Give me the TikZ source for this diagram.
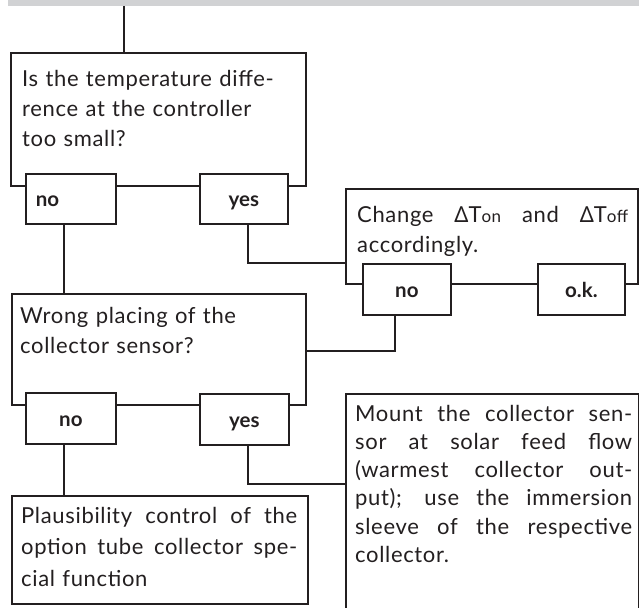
\documentclass[tikz,border=0pt]{standalone}
\usepackage{fontspec}
\setmainfont{Lato}
\newfontfamily\bodyfont{Lato}[LetterSpace=3]
\newfontfamily\gkfont{Noto Sans}
\definecolor{ink}{HTML}{231F20}
\definecolor{bargrey}{HTML}{D1D2D4}
\newcommand{\justline}[2]{{\spaceskip=0.28em plus 1fil\xspaceskip=0.3em plus 1fil\makebox[#1][s]{#2}}}
\newcommand{\mydelta}{{\gkfont Δ}}
\newcommand{\mysub}[1]{{\fontsize{17}{17}\selectfont #1}}
\newcommand{\labelfont}{\bfseries\fontsize{20.5}{20.5}\selectfont}
\begin{document}
\begin{tikzpicture}[x=1pt,y=-1pt,
  box/.style={draw=ink, fill=white, line width=1.8pt, rectangle, inner sep=0pt, anchor=north west},
  lbl/.style={box, text=ink, font=\labelfont, text height=16pt, text depth=0pt, align=center},
  txt/.style={anchor=base west, inner sep=0pt, text=ink, align=left},
  conn/.style={draw=ink, line width=1.8pt}]
\useasboundingbox (0,0) rectangle (639,607);
\clip (0,0) rectangle (639,607);
% top bar
\node[fill=bargrey, inner sep=0pt, minimum width=631pt, minimum height=6pt, anchor=north west] (bar) at (8,0) {};
\coordinate (start) at (124,6);
% main boxes
\node[box, minimum width=295pt, minimum height=133pt] (q1) at (10,52) {};
\node[box, minimum width=292pt, minimum height=95pt] (chg) at (345,188) {};
\node[box, minimum width=294pt, minimum height=111pt] (q2) at (11,293) {};
\node[box, minimum width=296pt, minimum height=108pt] (plaus) at (11,495) {};
\node[box, minimum width=293pt, minimum height=240pt] (mount) at (345,393) {};
% answer boxes
\node[lbl, minimum width=90pt, minimum height=50pt, text width=70pt, align=left] (q1no) at (25,173) {no};
\node[lbl, minimum width=88pt, minimum height=50pt] (q1yes) at (199,173) {yes};
\node[lbl, minimum width=88pt, minimum height=51pt] (chgno) at (362,263) {no};
\node[lbl, minimum width=87pt, minimum height=51pt] (chgok) at (537,263) {o.k.};
\node[lbl, minimum width=90pt, minimum height=51pt] (q2no) at (25,392) {no};
\node[lbl, minimum width=89pt, minimum height=51pt] (q2yes) at (199,393) {yes};
% texts
\node[txt, text width=285pt, font=\bodyfont\fontsize{22}{29.5}\selectfont] (t1) at (22,87)
  {Is the temperature diffe-\\rence at the controller\\too small?};
\node[txt, text width=271pt, font=\bodyfont\fontsize{22}{30}\selectfont] (t2) at (357,222)
  {\justline{271pt}{Change \mydelta T\mysub{on} and \mydelta T\mysub{off}}\\accordingly.};
\node[txt, text width=285pt, font=\bodyfont\fontsize{22}{30}\selectfont] (t3) at (20,323)
  {Wrong placing of the\\collector sensor?};
\node[txt, text width=276pt, font=\bodyfont\fontsize{22}{31.7}\selectfont] (t4) at (21,523)
  {\justline{276pt}{Plausibility control of the}\\\justline{276pt}{option tube collector spe-}\\cial function};
\node[txt, text width=277pt, font=\bodyfont\fontsize{22}{28.3}\selectfont] (t5) at (355,421)
  {\justline{277pt}{Mount the collector sen-}\\\justline{277pt}{sor at solar feed flow}\\\justline{277pt}{(warmest collector out-}\\\justline{277pt}{put); use the immersion}\\\justline{277pt}{sleeve of the respective}\\collector.};
% connectors
\draw[conn] (start) -- (start |- q1.north);
\draw[conn] ([xshift=-7pt]q1no.south) -- ([xshift=-7pt]q1no.south |- q2.north);
\draw[conn] ([xshift=4pt]q1yes.south) |- ([yshift=-26.5pt]chg.west);
\draw[conn] ([xshift=-12pt]chgno.south) |- ([yshift=-1.5pt]q2.east);
\draw[conn] ([xshift=-7pt]q2no.south) -- ([xshift=-7pt]q2no.south |- plaus.north);
\draw[conn] ([xshift=3.5pt]q2yes.south) |- ([yshift=30pt]mount.west);
\end{tikzpicture}
\end{document}
